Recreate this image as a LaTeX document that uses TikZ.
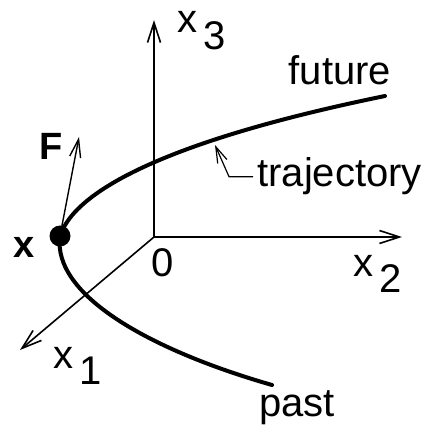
\documentclass[tikz,border=0pt]{standalone}
\usepackage{fontspec}
\setmainfont{Liberation Sans}
\usetikzlibrary{arrows.meta,positioning}
\tikzset{
  axis/.style={line width=0.8pt, -{Straight Barb[length=10pt,width=6.5pt]}},
  lbl/.style={inner sep=0pt, font=\fontsize{20}{24}\selectfont},
  boldlbl/.style={inner sep=0pt, font=\fontsize{19}{23}\selectfont\bfseries},
}
\newcommand{\sublabel}[2]{#1\hspace{0.15em}\raisebox{-0.42em}{#2}}

\begin{document}
\begin{tikzpicture}[x=0.5pt, y=-0.5pt]
    \useasboundingbox (0,0) rectangle (424,426);
    % axes
    \coordinate (O) at (154,237);
    \coordinate (x3end) at (154,20);
    \coordinate (x2end) at (402,237);
    \coordinate (x1end) at (20,350);
    \draw[axis] (O) -- (x3end);
    \draw[axis] (O) -- (x2end);
    \draw[axis] (O) -- (x1end);
    \node[lbl] (zero) at (163,263) {0};
    \node[lbl, anchor=base west] (x3lab) at (177,33) {\sublabel{x}{3}};
    \node[lbl, anchor=base west] (x2lab) at (353,276) {\sublabel{x}{2}};
    \node[lbl, anchor=base west] (x1lab) at (53,368) {\sublabel{x}{1}};
    % trajectory
    \coordinate (pastend) at (272,385);
    \coordinate (futend) at (385,96);
    \node[circle, fill=black, minimum size=10.5pt, inner sep=0pt] (xpt) at (60,236) {};
    \draw[line width=2pt, line cap=round]
      (pastend) .. controls (150,350) and (52,295) .. (xpt.center)
      .. controls (75,190) and (170,140) .. (futend);
    \node[lbl] (future) at (340,70) {future};
    \node[lbl] (past) at (297,408) {past};
    \node[lbl, anchor=base west] (traj) at (257,187) {trajectory};
    \coordinate (trajtip) at (215,145);
    \draw[line width=0.6pt, -{Straight Barb[length=8pt,width=5pt]}]
      ([xshift=-2]traj.west) -- ++(-24,0) -- (trajtip);
    % force
    \coordinate (Ftip) at (79,137);
    \draw[line width=0.7pt, -{Straight Barb[length=9pt,width=5.5pt]}]
      (xpt.center) -- (Ftip);
    \node[boldlbl] (Flab) at (51,146) {F};
    \node[boldlbl] (xlab) at (24,247) {x};
  \end{tikzpicture}
\end{document}
